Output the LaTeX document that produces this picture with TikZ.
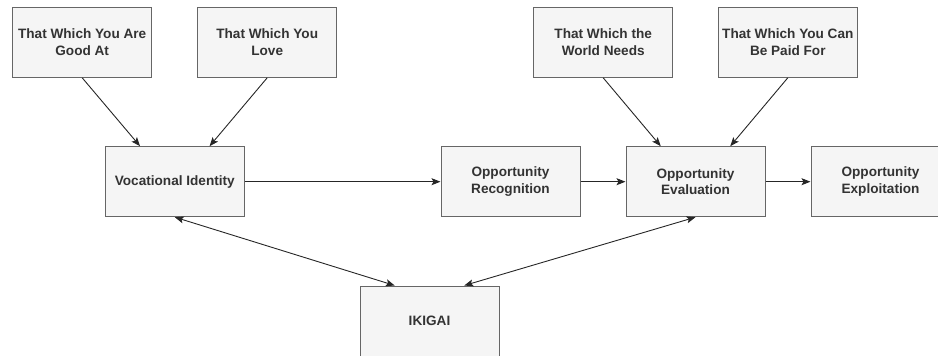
\documentclass[tikz,border=0pt]{standalone}
\usepackage{fontspec}
\setmainfont{Liberation Sans}
\usetikzlibrary{arrows.meta}
\definecolor{boxfill}{HTML}{F5F5F5}
\definecolor{boxline}{HTML}{666666}
\definecolor{boxtext}{HTML}{333333}
\begin{document}
\begin{tikzpicture}[x=1pt,y=-1pt,
  box/.style={draw=boxline, fill=boxfill, line width=1pt, minimum width=139pt, minimum height=70pt,
    inner sep=0pt, align=center, text=boxtext,
    font=\fontsize{13.6pt}{16.7pt}\selectfont\bfseries},
  conn/.style={draw=black!85, line width=0.9pt, -{Stealth[length=9pt,width=7pt,inset=2pt]}},
  biconn/.style={draw=black!85, line width=0.9pt, {Stealth[length=9pt,width=7pt,inset=2pt]}-{Stealth[length=9pt,width=7pt,inset=2pt]}}]
\useasboundingbox (0,0) rectangle (938,356);
\clip (0,0) rectangle (938,356);
\node[box] (A) at (82.2,42.3) {That Which You Are\\Good At};
\node[box] (B) at (267.2,42.3) {That Which You\\Love};
\node[box] (C) at (603.2,42.3) {That Which the\\World Needs};
\node[box] (D) at (787.8,42.3) {That Which You Can\\Be Paid For};
\node[box] (V) at (174.8,181.7) {Vocational Identity};
\node[box] (R) at (510.5,181.7) {Opportunity\\Recognition};
\node[box] (E) at (695.5,181.7) {Opportunity\\Evaluation};
\node[box] (X) at (880.5,181.7) {Opportunity\\Exploitation};
\node[box] (I) at (429.5,321) {IKIGAI};
\draw[conn] (A.south) -- ([xshift=-34.75pt]V.north);
\draw[conn] (B.south) -- ([xshift=34.75pt]V.north);
\draw[conn] (C.south) -- ([xshift=-34.75pt]E.north);
\draw[conn] (D.south) -- ([xshift=34.75pt]E.north);
\draw[conn] (V.east) -- (R.west);
\draw[conn] (R.east) -- (E.west);
\draw[conn] (E.east) -- (X.west);
\draw[biconn] (V.south) -- ([xshift=-34.75pt]I.north);
\draw[biconn] (E.south) -- ([xshift=34.75pt]I.north);
\end{tikzpicture}
\end{document}
